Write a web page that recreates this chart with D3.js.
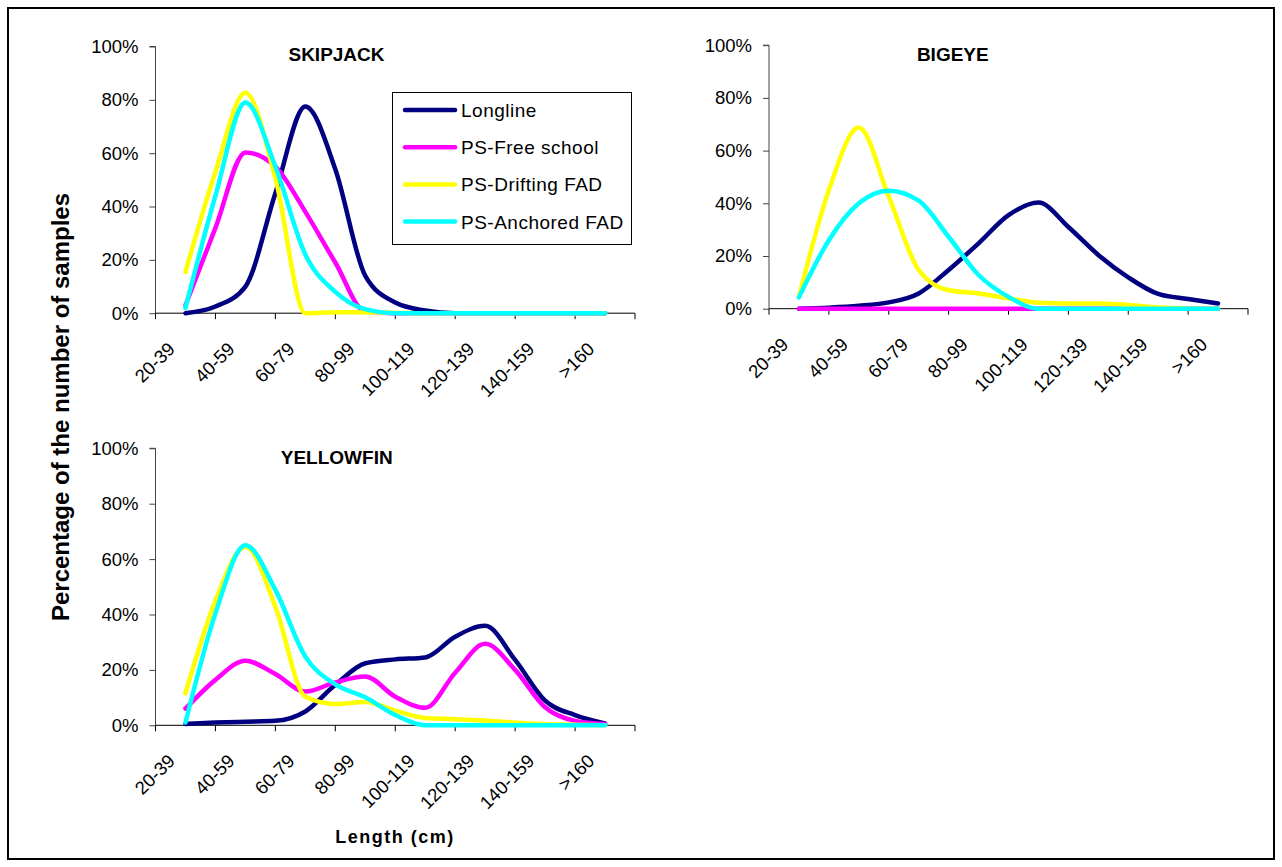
<!DOCTYPE html>
<html>
<head>
  <meta charset="utf-8">
  <script src="https://d3js.org/d3.v7.min.js"></script>
  <style>
    body { margin: 0; background: #fff; }
    svg text { font-family: "Liberation Sans", Arial, sans-serif; fill: #000; }
  </style>
</head>
<body>
<div id="my_dataviz"></div>
<script>
// length classes (10 cm) the curves are drawn through
const lengthBins = ["20-29","30-39","40-49","50-59","60-69","70-79","80-89","90-99",
                    "100-109","110-119","120-129","130-139","140-149","150-159","160+"];
const tickLabels = ["20-39","40-59","60-79","80-99","100-119","120-139","140-159",">160"];
const yTicks = [0, 20, 40, 60, 80, 100];
const seriesNames = ["Longline", "PS-Free school", "PS-Drifting FAD", "PS-Anchored FAD"];
const seriesColors = ["#000080", "#ff00ff", "#ffff00", "#00ffff"];

// percent of samples
const skipjackLongline = [0, 2.5, 10, 45, 77.5, 54, 14, 4, 1, 0, 0, 0, 0, 0, 0];
const skipjackFree     = [3, 32, 60.3, 55, 38, 19, 0.6, 0, 0, 0, 0, 0, 0, 0, 0];
const skipjackDrifting = [15.5, 53, 82.7, 50.6, 0, 0.4, 0.3, 0.2, 0, 0, 0, 0, 0, 0, 0];
const skipjackAnchored = [2, 44, 79, 55, 22, 8, 1.5, 0, 0, 0, 0, 0, 0, 0, 0];

const bigeyeLongline = [0, 0.4, 1.1, 2.4, 5.8, 14.7, 24.8, 35.5, 40.3, 31, 20.4, 11.9, 5.6, 3.7, 2];
const bigeyeFree     = [0, 0, 0, 0, 0, 0, 0, 0, 0, 0, 0, 0, 0, 0, 0];
const bigeyeDrifting = [4.5, 45, 68.8, 42.5, 14.7, 7, 5.8, 3.9, 2.3, 2, 2, 1.4, 0.5, 0, 0];
const bigeyeAnchored = [4.3, 26, 40, 44.8, 41, 27.3, 12.8, 4.5, 0, 0, 0, 0, 0, 0, 0];

const yellowfinLongline = [0.5, 1, 1.3, 1.6, 5, 14.6, 22.4, 23.8, 24.5, 32, 35.9, 23.6, 8.9, 3.7, 0.7];
const yellowfinFree     = [6, 16.4, 23.3, 18.5, 12.2, 15.5, 17.6, 10.3, 6.3, 19, 29.4, 20, 6.5, 1.6, 0.5];
const yellowfinDrifting = [11.6, 45, 64.5, 42.8, 10.3, 7.7, 8.4, 5.3, 2.6, 2.2, 1.7, 1, 0.4, 0.2, 0];
const yellowfinAnchored = [1, 40.4, 65, 48.9, 24.8, 14.8, 10.1, 3.7, 0, 0, 0, 0, 0, 0, 0];

const panels = [
  {title: "SKIPJACK", series: [skipjackLongline, skipjackFree, skipjackDrifting, skipjackAnchored],
   x0: 155.5, x1: 635, y0: 313.2, y1: 46.5, tx: 336.5, ty: 60.5},
  {title: "BIGEYE", series: [bigeyeLongline, bigeyeFree, bigeyeDrifting, bigeyeAnchored],
   x0: 769, x1: 1248, y0: 308.7, y1: 45.2, tx: 952.8, ty: 60.5},
  {title: "YELLOWFIN", series: [yellowfinLongline, yellowfinFree, yellowfinDrifting, yellowfinAnchored],
   x0: 155.5, x1: 635, y0: 725.3, y1: 448.3, tx: 336.7, ty: 463.5}
];

const width = 1282, height = 867;

const svg = d3.select("#my_dataviz")
  .append("svg")
    .attr("width", width)
    .attr("height", height);

// outer frame
svg.append("rect")
  .attr("x", 8).attr("y", 8)
  .attr("width", 1266).attr("height", 851)
  .attr("fill", "none")
  .attr("stroke", "#000")
  .attr("stroke-width", 2);

panels.forEach(function(p) {
  const g = svg.append("g");

  const x = d3.scalePoint()
    .domain(lengthBins)
    .range([p.x0, p.x1])
    .padding(1);

  const xb = d3.scaleBand()
    .domain(tickLabels)
    .range([p.x0, p.x1]);

  const y = d3.scaleLinear()
    .domain([0, 100])
    .range([p.y0, p.y1]);

  // y axis
  const yAxis = g.append("g")
    .attr("transform", `translate(${p.x0},0)`)
    .call(d3.axisLeft(y).tickValues(yTicks).tickFormat(d => d + "%").tickSize(6).tickPadding(11));
  yAxis.select(".domain").attr("stroke", "#444").attr("d", `M-6,${p.y1}H0V${p.y0}`);
  yAxis.selectAll(".tick line").attr("stroke", "#444");
  yAxis.selectAll("text")
    .style("font-size", "18.5px")
    .style("font-family", "'Liberation Sans', Arial, sans-serif");

  // x axis: line + tick marks at band edges
  g.append("line")
    .attr("x1", p.x0).attr("x2", p.x1)
    .attr("y1", p.y0).attr("y2", p.y0)
    .attr("stroke", "#000");
  const edges = tickLabels.map(d => xb(d)).concat([p.x1]);
  g.selectAll("line.xt")
    .data(edges)
    .join("line")
      .attr("class", "xt")
      .attr("x1", d => d).attr("x2", d => d)
      .attr("y1", p.y0).attr("y2", p.y0 + 6)
      .attr("stroke", "#000");

  g.selectAll("text.xl")
    .data(tickLabels)
    .join("text")
      .attr("class", "xl")
      .attr("transform", d => `translate(${xb(d) + xb.bandwidth() / 2 - 9.5},${p.y0 + 37}) rotate(-45)`)
      .attr("text-anchor", "end")
      .style("font-size", "18.5px")
      .text(d => d);

  // smoothed curves
  const line = d3.line()
    .x((d, i) => x(lengthBins[i]))
    .y(d => y(d))
    .curve(d3.curveMonotoneX);

  g.selectAll("path.series")
    .data(p.series)
    .join("path")
      .attr("class", "series")
      .attr("d", d => line(d))
      .attr("fill", "none")
      .attr("stroke", (d, i) => seriesColors[i])
      .attr("stroke-width", 4.5)
      .attr("stroke-linejoin", "round")
      .attr("stroke-linecap", "round");

  g.append("text")
    .attr("x", p.tx).attr("y", p.ty)
    .attr("text-anchor", "middle")
    .style("font-size", "19px")
    .style("font-weight", "bold")
    .text(p.title);
});

// legend
const legend = svg.append("g");
legend.append("rect")
  .attr("x", 392.5).attr("y", 92.5)
  .attr("width", 239).attr("height", 152)
  .attr("fill", "#fff")
  .attr("stroke", "#000");

const rows = legend.selectAll("g.row")
  .data(seriesNames)
  .join("g")
    .attr("class", "row")
    .attr("transform", (d, i) => `translate(0,${110 + i * 37.2})`);
rows.append("line")
  .attr("x1", 405).attr("x2", 455)
  .attr("stroke", (d, i) => seriesColors[i])
  .attr("stroke-width", 4.5)
  .attr("stroke-linecap", "round");
rows.append("text")
  .attr("x", 461).attr("y", 7)
  .style("font-size", "19px")
  .style("letter-spacing", "0.5px")
  .text(d => d);

// axis titles
svg.append("text")
  .attr("transform", "translate(69,407) rotate(-90)")
  .attr("text-anchor", "middle")
  .style("font-size", "24px")
  .style("font-weight", "bold")
  .text("Percentage of the number of samples");

svg.append("text")
  .attr("x", 395).attr("y", 843)
  .attr("text-anchor", "middle")
  .style("font-size", "18px")
  .style("font-weight", "bold")
  .style("letter-spacing", "1.5px")
  .text("Length (cm)");
</script>
</body>
</html>
